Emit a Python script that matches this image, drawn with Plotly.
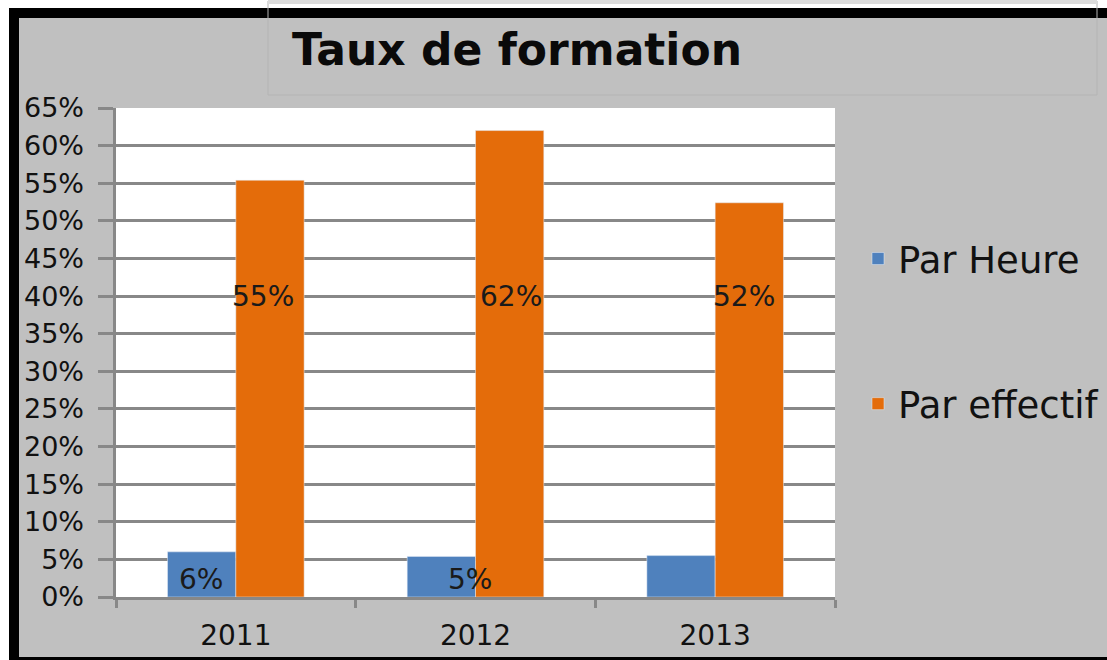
import plotly.graph_objects as go

# ---- data ----
years = ["2011", "2012", "2013"]
par_heure = [0.06, 0.054, 0.055]
par_effectif = [0.554, 0.62, 0.524]
labels_heure = ["6%", "5%", ""]
labels_effectif = ["55%", "62%", "52%"]
series_names = ["Par Heure", "Par effectif"]
y_ticks = [0, 0.05, 0.10, 0.15, 0.20, 0.25, 0.30, 0.35, 0.40, 0.45, 0.50, 0.55, 0.60, 0.65]
y_tick_labels = ["0%", "5%", "10%", "15%", "20%", "25%", "30%", "35%", "40%", "45%",
                 "50%", "55%", "60%", "65%"]

# ---- geometry (pixels) ----
W, H = 1107, 660
PL, PR, PT, PB = 116, 835, 108, 597


def px(x):
    return (x - PL) / (PR - PL)


def py(y):
    return (PB - y) / (PB - PT)


BLUE = "#4f81bd"
ORANGE = "#e46c0a"
GRID = "#888888"
BG = "#c0c0c0"
FONT = "DejaVu Sans"
PAD = "\u00a0"

fig = go.Figure()
fig.add_trace(go.Bar(x=years, y=par_heure, name=series_names[0], marker_color=BLUE,
                     legendgroup="a"))
fig.add_trace(go.Bar(x=years, y=par_effectif, name=series_names[1], marker_color=ORANGE,
                     legendgroup="b"))

# data labels (category axis: annotation x given as category index)
blue_shift = [-35, -6, 0]
orange_shift = [27, 35, 29]
for i, yr in enumerate(years):
    if labels_heure[i]:
        fig.add_annotation(x=i, y=0.023, xref="x", yref="y", text=labels_heure[i],
                           showarrow=False, xshift=blue_shift[i],
                           font=dict(family=FONT, size=28, color="#1a1a1a"))
    fig.add_annotation(x=i, y=0.40, xref="x", yref="y", text=labels_effectif[i],
                       showarrow=False, xshift=orange_shift[i],
                       font=dict(family=FONT, size=28, color="#1a1a1a"))

shapes = []
shapes.append(dict(type="rect", xref="paper", yref="paper", x0=px(0), x1=px(W), y0=py(0), y1=py(8),
                   fillcolor="white", line_width=0, layer="above"))
shapes.append(dict(type="rect", xref="paper", yref="paper", x0=px(0), x1=px(9), y0=py(0), y1=py(H),
                   fillcolor="white", line_width=0, layer="above"))
shapes.append(dict(type="rect", xref="paper", yref="paper", x0=px(9), x1=px(W), y0=py(8), y1=py(18),
                   fillcolor="black", line_width=0, layer="above"))
shapes.append(dict(type="rect", xref="paper", yref="paper", x0=px(9), x1=px(19), y0=py(8), y1=py(H),
                   fillcolor="black", line_width=0, layer="above"))
shapes.append(dict(type="rect", xref="paper", yref="paper", x0=px(9), x1=px(W), y0=py(657), y1=py(H),
                   fillcolor="black", line_width=0, layer="above"))
shapes.append(dict(type="rect", xref="paper", yref="paper", x0=px(268), x1=px(1097), y0=py(1), y1=py(95),
                   fillcolor="rgba(0,0,0,0)", line=dict(color="#b4b4b4", width=1), layer="above"))
shapes.append(dict(type="line", xref="paper", yref="paper", x0=px(268), x1=px(1097), y0=py(2), y1=py(2),
                   line=dict(color="#dcdcdc", width=4), layer="above"))

fig.update_layout(
    width=W, height=H,
    margin=dict(l=PL, r=W - PR, t=PT, b=H - PB, pad=0, autoexpand=False),
    paper_bgcolor=BG, plot_bgcolor="white",
    barmode="group", bargap=0.43,
    font=dict(family=FONT, color="#111111"),
    title=dict(text="<b>Taux de formation</b>", xref="container", yref="container",
               x=517 / W, xanchor="center", y=1 - 50 / H, yanchor="middle",
               font=dict(family=FONT, size=44, color="#0a0a0a")),
    showlegend=True,
    legend=dict(x=px(858), y=py(228), xanchor="left", yanchor="top",
                bgcolor="rgba(0,0,0,0)", font=dict(family=FONT, size=37, color="#111111"),
                traceorder="grouped", tracegroupgap=94),
    shapes=shapes,
)

fig.update_yaxes(range=[0, 0.65], tickmode="array", tickvals=y_ticks,
                 ticktext=[t + PAD for t in y_tick_labels],
                 showgrid=True, gridcolor=GRID, gridwidth=3,
                 zeroline=False, showline=True, linecolor=GRID, linewidth=3,
                 ticks="outside", ticklen=15, tickwidth=3, tickcolor=GRID,
                 automargin=False,
                 tickfont=dict(family=FONT, size=27, color="#111111"))
fig.update_xaxes(type="category", categoryorder="array", categoryarray=years,
                 range=[-0.5, len(years) - 0.5], autorange=False,
                 showgrid=False, showline=True, linecolor=GRID, linewidth=3,
                 ticks="outside", tickson="boundaries", ticklen=8, tickwidth=3, tickcolor=GRID,
                 ticklabelstandoff=11,
                 automargin=False, tickangle=0,
                 tickfont=dict(family=FONT, size=28, color="#111111"))

fig.write_html("out.html", post_script="document.body.style.margin='0px';",
               config={"displayModeBar": False})
